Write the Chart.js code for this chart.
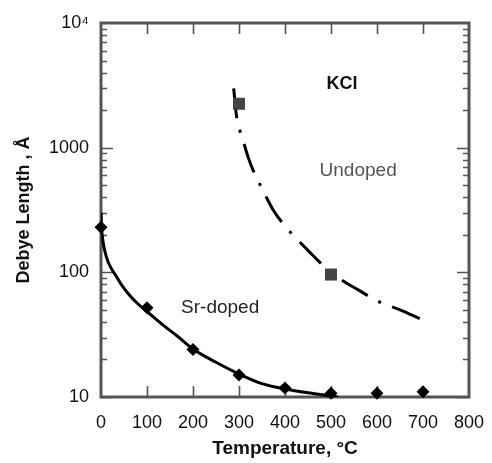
<!DOCTYPE html>
<html lang="en">
<head>
<meta charset="UTF-8" />
<title>Debye Length vs Temperature - KCl</title>
<script src="https://cdn.jsdelivr.net/npm/chart.js"></script>
<style>
  html, body { margin: 0; padding: 0; background: #fff; }
</style>
</head>
<body>
<canvas id="debyeChart" width="492" height="463"></canvas>

<script>
  // measured points
  const srTemps = [0, 100, 200, 300, 400, 500, 600, 700];
  const srLength = [230, 52, 24, 15, 11.8, 10.7, 10.7, 11];
  const undopedTemps = [300, 500];
  const undopedLength = [2250, 96];

  // fitted curves
  const srFitTemps = [0, 1, 4, 12, 22, 34, 47, 63, 80, 100, 135, 165, 200, 250, 300, 350, 400, 450, 500, 515];
  const srFitLength = [300, 235, 180, 132, 108, 92, 77, 65, 56, 48.5, 37.7, 31, 24.3, 19, 15.3, 12.8, 11.6, 10.8, 10.2, 10];
  const undopedFitTemps = [287, 290, 294, 302, 311, 320, 331, 350, 375, 396, 418, 450, 487, 519, 560, 600, 650, 693];
  const undopedFitLength = [3440, 2600, 1860, 1370, 1070, 836, 655, 470, 313, 245, 198, 150, 110, 89, 72, 59, 50, 42.6];

  // axes
  const xTickValues = [0, 100, 200, 300, 400, 500, 600, 700, 800];
  const yTickValues = [10, 100, 1000, 10000];
  const yTickLabels = ['10', '100', '1000', '10⁴'];

  const FONT = "'Liberation Sans', Arial, Helvetica, sans-serif";
  const AXIS_COLOR = '#555';

  // text placed inside the plot (data coordinates)
  const notes = [
    { text: 'KCl', x: 524, y: 3250, font: 'bold 18px ' + FONT, color: '#111' },
    { text: 'Undoped', x: 559, y: 655, font: '19px ' + FONT, color: '#555' },
    { text: 'Sr-doped', x: 259, y: 52, font: '19px ' + FONT, color: '#222' }
  ];

  function toPoints(xs, ys) {
    return xs.map((x, i) => ({ x: x, y: ys[i] }));
  }

  // frame and inward tick marks, drawn from the scales
  const framePlugin = {
    id: 'frame',
    beforeDatasetsDraw(chart) {
      const { ctx, chartArea: a, scales } = chart;
      const xs = scales.x, ys = scales.y;
      ctx.save();
      ctx.strokeStyle = AXIS_COLOR;

      ctx.lineWidth = 1.6;
      ctx.beginPath();
      xTickValues.slice(1, -1).forEach(v => {
        const px = Math.round(xs.getPixelForValue(v)) + 0.5;
        ctx.moveTo(px, a.top); ctx.lineTo(px, a.top + 11);
        ctx.moveTo(px, a.bottom); ctx.lineTo(px, a.bottom - 11);
      });
      yTickValues.slice(0, -1).forEach(dec => {
        for (let m = 1; m < 10; m++) {
          const py = Math.round(ys.getPixelForValue(dec * m)) + 0.5;
          const len = m === 1 ? 12 : 6;
          ctx.moveTo(a.left, py); ctx.lineTo(a.left + len, py);
          ctx.moveTo(a.right, py); ctx.lineTo(a.right - len, py);
        }
      });
      ctx.stroke();

      ctx.lineWidth = 3;
      ctx.strokeRect(a.left, a.top, a.right - a.left, a.bottom - a.top);
      ctx.restore();
    },
    afterDatasetsDraw(chart) {
      const { ctx, scales } = chart;
      ctx.save();
      ctx.textAlign = 'center';
      ctx.textBaseline = 'middle';
      notes.forEach(n => {
        ctx.font = n.font;
        ctx.fillStyle = n.color;
        ctx.fillText(n.text, scales.x.getPixelForValue(n.x), scales.y.getPixelForValue(n.y));
      });
      ctx.restore();
    }
  };

  Chart.defaults.font.family = FONT;
  Chart.defaults.color = '#111';

  new Chart(document.getElementById('debyeChart'), {
    type: 'scatter',
    data: {
      datasets: [
        {
          label: 'Sr-doped data',
          data: toPoints(srTemps, srLength),
          pointStyle: 'rectRot',
          pointRadius: 6.5,
          backgroundColor: '#000',
          borderColor: '#000',
          borderWidth: 0,
          showLine: false,
          clip: false,
          order: 0
        },
        {
          label: 'Undoped data',
          data: toPoints(undopedTemps, undopedLength),
          pointStyle: 'rect',
          pointRadius: 8.5,
          backgroundColor: '#444',
          borderColor: '#444',
          borderWidth: 0,
          showLine: false,
          clip: false,
          order: 0
        },
        {
          label: 'Sr-doped fit',
          data: toPoints(srFitTemps, srFitLength),
          showLine: true,
          borderColor: '#000',
          borderWidth: 3,
          pointRadius: 0,
          cubicInterpolationMode: 'monotone',
          order: 1
        },
        {
          label: 'Undoped fit',
          // drawn from the high-temperature end so the dash pattern lines up
          data: toPoints(undopedFitTemps, undopedFitLength).reverse(),
          showLine: true,
          borderColor: '#000',
          borderWidth: 3,
          borderDash: [30, 12, 3, 12],
          pointRadius: 0,
          cubicInterpolationMode: 'monotone',
          order: 1
        }
      ]
    },
    options: {
      responsive: false,
      animation: false,
      layout: { padding: { top: 23, right: 23, bottom: 0, left: 0 } },
      plugins: {
        legend: { display: false },
        tooltip: { enabled: false }
      },
      scales: {
        x: {
          type: 'linear',
          min: 0,
          max: 800,
          afterBuildTicks: s => { s.ticks = xTickValues.map(v => ({ value: v })); },
          afterFit: s => { s.height = 66; s.paddingLeft = 0; s.paddingRight = 0; },
          grid: { display: false, drawTicks: false },
          border: { display: false },
          ticks: {
            padding: 15,
            autoSkip: false,
            maxRotation: 0,
            color: '#111',
            font: { size: 18 }
          },
          title: {
            display: true,
            text: 'Temperature, °C',
            color: '#111',
            font: { size: 19, weight: 'bold' },
            padding: { top: 0, bottom: 3 }
          }
        },
        y: {
          type: 'logarithmic',
          min: 10,
          max: 10000,
          afterBuildTicks: s => { s.ticks = yTickValues.map(v => ({ value: v })); },
          afterFit: s => { s.width = 101; s.paddingTop = 0; s.paddingBottom = 0; },
          grid: { display: false, drawTicks: false },
          border: { display: false },
          ticks: {
            padding: 12,
            autoSkip: false,
            color: '#111',
            font: { size: 18 },
            callback: v => {
              const i = yTickValues.indexOf(Math.round(v));
              return i >= 0 ? yTickLabels[i] : '';
            }
          },
          title: {
            display: true,
            text: 'Debye Length , Å',
            color: '#111',
            font: { size: 18, weight: 'bold' },
            padding: { top: 13, bottom: 0 }
          }
        }
      }
    },
    plugins: [framePlugin]
  });
</script>
</body>
</html>
